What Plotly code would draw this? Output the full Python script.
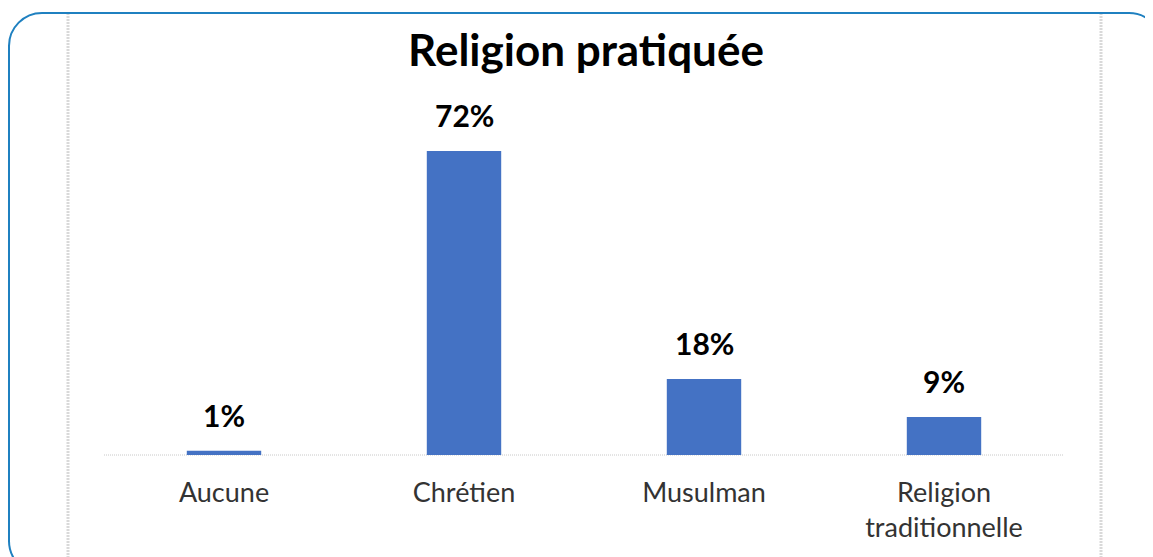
import plotly.graph_objects as go

categories = ["Aucune", "Chrétien", "Musulman", "Religion<br>traditionnelle"]
values = [1, 72, 18, 9]
value_labels = ["1%", "72%", "18%", "9%"]
title_text = "Religion pratiquée"

# page size and the browser's default 8px body margin
PAGE_W, PAGE_H = 1153, 557
OFF = 8
W, H = PAGE_W - OFF, PAGE_H - OFF

# plot area in page pixels
PLOT_L, PLOT_R, PLOT_T, PLOT_B = 104, 1064, 100, 455
ML = PLOT_L - OFF
MR = W - (PLOT_R - OFF)
MT = PLOT_T - OFF
MB = H - (PLOT_B - OFF)
PW = PLOT_R - PLOT_L
PH = PLOT_B - PLOT_T
FONT = "Lato, 'Noto Sans', sans-serif"


def px(x):
    return (x - PLOT_L) / PW


def py(y):
    return (PLOT_B - y) / PH


fig = go.Figure()
fig.add_trace(go.Bar(
    x=categories, y=values,
    marker=dict(color="#4472C4", line=dict(width=0)),
    width=0.31,
    hoverinfo="skip",
))

annotations = []
for c, v, t in zip(categories, values, value_labels):
    annotations.append(dict(
        x=c, y=v, xref="x", yref="y", text="<b>" + t + "</b>",
        showarrow=False, yanchor="middle", yshift=36,
        font=dict(family=FONT, size=30, color="#000000"),
    ))

# rounded frame (page pixels)
x0, x1, y0, y1, r = 9, 1162, 13, 574, 33
k = 0.5523 * r


def P(x, y):
    return f"{px(x):.5f},{py(y):.5f}"


path = (
    f"M {P(x0 + r, y0)} L {P(x1 - r, y0)} "
    f"C {P(x1 - r + k, y0)} {P(x1, y0 + r - k)} {P(x1, y0 + r)} "
    f"L {P(x1, y1 - r)} "
    f"C {P(x1, y1 - r + k)} {P(x1 - r + k, y1)} {P(x1 - r, y1)} "
    f"L {P(x0 + r, y1)} "
    f"C {P(x0 + r - k, y1)} {P(x0, y1 - r + k)} {P(x0, y1 - r)} "
    f"L {P(x0, y0 + r)} "
    f"C {P(x0, y0 + r - k)} {P(x0 + r - k, y0)} {P(x0 + r, y0)} Z"
)

shapes = [
    dict(type="path", xref="paper", yref="paper", path=path,
         line=dict(color="#1F80C0", width=2), fillcolor="rgba(0,0,0,0)", layer="above"),
    # dotted baseline
    dict(type="line", xref="paper", yref="paper", x0=0, x1=1, y0=0, y1=0,
         line=dict(color="#C8C8C8", width=1, dash="1px,1px"), layer="below"),
]
for lx in (68, 1101):
    shapes.append(dict(type="line", xref="paper", yref="paper",
                       x0=px(lx), x1=px(lx), y0=py(y0), y1=py(PAGE_H + 5),
                       line=dict(color="#D9D9D9", width=3, dash="2px,1px"), layer="below"))

fig.update_layout(
    width=W, height=H,
    margin=dict(l=ML, r=MR, t=MT, b=MB, pad=0),
    paper_bgcolor="white", plot_bgcolor="white",
    showlegend=False,
    title=dict(text="<b>" + title_text + "</b>", x=px(586), xref="paper",
               y=1 - (51 - OFF) / H, yref="container", xanchor="center", yanchor="middle",
               font=dict(family=FONT, size=44, color="#000000")),
    xaxis=dict(showgrid=False, zeroline=False, showline=False,
               ticks="", tickfont=dict(family=FONT, size=27, color="#333333"),
               ticklabelstandoff=19, fixedrange=True),
    yaxis=dict(range=[0, PH / 4.222], visible=False, showgrid=False, zeroline=False,
               fixedrange=True),
    annotations=annotations,
    shapes=shapes,
)

fig.write_html("out.html")
